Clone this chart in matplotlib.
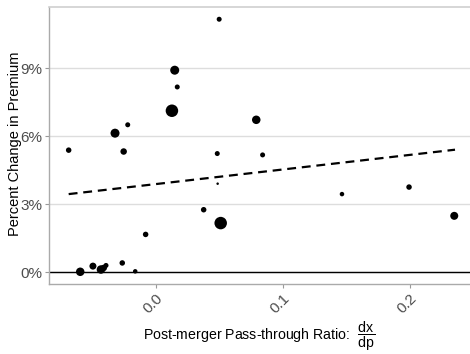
import matplotlib
matplotlib.use("Agg")
import matplotlib.pyplot as plt
import numpy as np

plt.rcParams['font.family'] = ['Liberation Sans', 'DejaVu Sans']
plt.rcParams['mathtext.fontset'] = 'custom'
plt.rcParams['mathtext.rm'] = 'Liberation Sans'
plt.rcParams['mathtext.it'] = 'Liberation Sans'

# pass-through ratio vs premium change (percent), point size ~ market weight
ratio = [-0.0685, 0.050, 0.0150, 0.0170, 0.0128, -0.0320, -0.0220, -0.0252,
         0.0485, 0.0792, 0.0842, 0.0488, 0.0378, 0.0512, -0.0079, -0.0594,
         -0.0494, -0.0431, -0.0409, -0.0391, -0.0263, -0.0161, 0.1467,
         0.1995, 0.2351]
premium = [5.38, 11.16, 8.91, 8.17, 7.12, 6.13, 6.50, 5.32,
           5.23, 6.72, 5.17, 3.90, 2.75, 2.16, 1.66, 0.01,
           0.26, 0.11, 0.18, 0.29, 0.40, 0.03, 3.44,
           3.75, 2.48]
weight = [5.5, 5.0, 9.0, 5.0, 12.5, 9.0, 5.0, 6.5,
          5.0, 8.5, 5.0, 2.5, 5.5, 12.5, 5.5, 8.5,
          7.0, 8.5, 6.5, 5.0, 5.5, 4.5, 4.5,
          5.5, 8.0]

fit_x = [-0.0685, 0.2357]
fit_y = [3.44, 5.40]

yticks = [0, 3, 6, 9]
xticks = [0.0, 0.1, 0.2]

fig = plt.figure(figsize=(4.7, 3.54), dpi=100)
ax = fig.add_axes([0.1053, 0.1977, 0.8947, 0.7825])

for t in yticks:
    ax.axhline(t, color='#DDDDDD', lw=1.0, zorder=0)
ax.axhline(0, color='black', lw=1.0, zorder=1)

sizes = (np.array(weight) * 0.72) ** 2
ax.scatter(ratio, premium, s=sizes, color='black', linewidths=0, zorder=3)
ax.plot(fit_x, fit_y, color='black', lw=1.6, ls=(0, (4, 2.6)), zorder=2)

ax.set_xlim(-0.0836, 0.2475)
ax.set_ylim(-0.53, 11.7)

ax.set_yticks(yticks)
ax.set_yticklabels([f"{t}%" for t in yticks], color='#4D4D4D', fontsize=11)
ax.set_xticks(xticks)
ax.set_xticklabels([f"{t:.1f}" for t in xticks], color='#4D4D4D', fontsize=11,
                   rotation=45, ha='right', va='top', rotation_mode='anchor')
ax.tick_params(axis='both', length=3, color='#999999', width=0.8, pad=2)

for side in ['left', 'bottom']:
    ax.spines[side].set_color('#AAAAAA')
    ax.spines[side].set_linewidth(1.0)
ax.spines['top'].set_color('#D0D0D0')
ax.spines['top'].set_linewidth(1.2)
ax.spines['right'].set_visible(False)

fig.text(15 / 470, 1 - 144 / 354, "Percent Change in Premium", fontsize=10.5,
         rotation=90, ha='center', va='center')
fig.text(259 / 470, 1 - 336.5 / 354,
         r"Post-merger Pass-through Ratio:  $\dfrac{\mathrm{dx}}{\mathrm{dp}}$",
         fontsize=10.2, ha='center', va='center')

fig.savefig("out.png", dpi=100)
